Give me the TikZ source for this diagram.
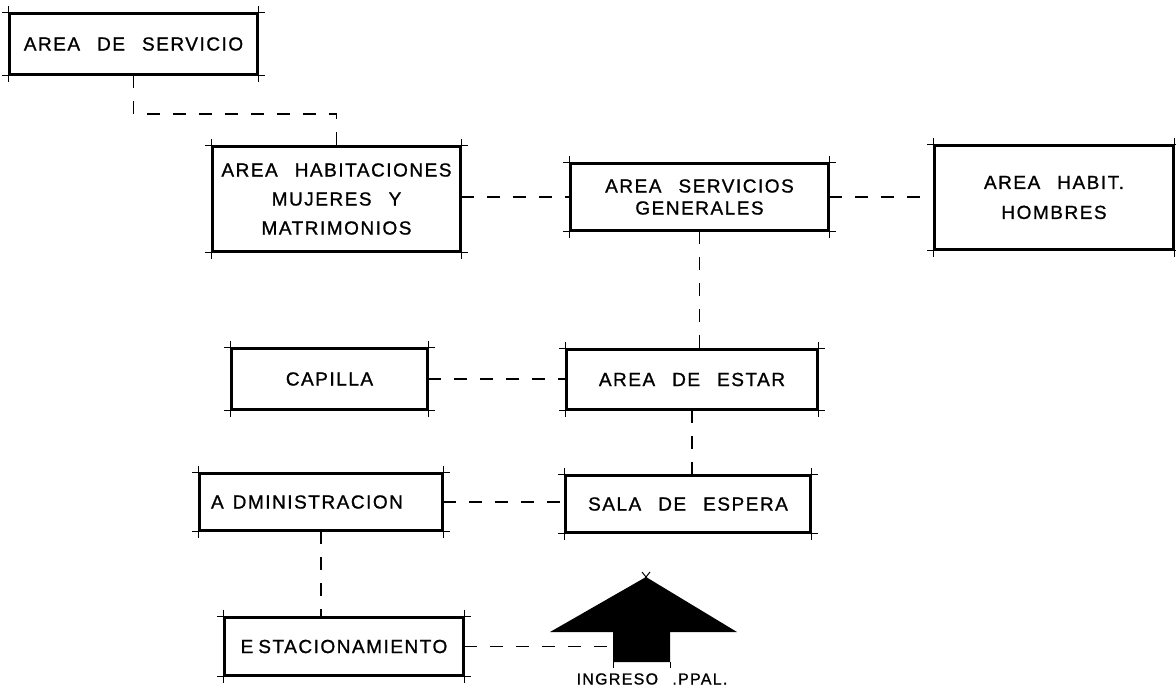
\documentclass[tikz,border=0pt]{standalone}
\usepackage{fontspec}
\setmainfont{Liberation Sans}[LetterSpace=8,WordSpace=2.5,FakeBold=1]
\usetikzlibrary{calc}

\begin{document}
\begin{tikzpicture}[x=1pt,y=-1pt]
    \useasboundingbox (0,0) rectangle (1176,689);

    \begin{scope}[every node/.style={draw,line width=2.4pt,inner sep=0pt,align=center,
        font=\fontsize{19}{22}\selectfont}]
      \node[minimum width=247,minimum height=60] (serv) at (133.5,44) {AREA DE SERVICIO};
      \node[minimum width=247,minimum height=104] (hab) at (336.5,199)
        {AREA HABITACIONES\\[7pt]MUJERES Y\\[7pt]MATRIMONIOS};
      \node[minimum width=257,minimum height=66] (gen) at (699.5,197)
        {AREA SERVICIOS\\GENERALES};
      \node[minimum width=238,minimum height=103] (hom) at (1054,197.5)
        {AREA HABIT.\\[8pt]HOMBRES};
      \node[minimum width=195,minimum height=60] (cap) at (329.5,379) {CAPILLA};
      \node[minimum width=250,minimum height=59] (est) at (692,379.5) {AREA DE ESTAR};
      \node[minimum width=242,minimum height=56] (adm) at (321,502)
        {A\hspace{9pt}DMINISTRACION\hspace*{28pt}};
      \node[minimum width=244,minimum height=56] (esp) at (688,504) {SALA DE ESPERA};
      \node[minimum width=238,minimum height=57] (estac) at (344,646.5)
        {E\hspace{5pt}STACIONAMIENTO};
    \end{scope}

    % corner ticks
    \foreach \n in {serv,hab,gen,hom,cap,est,adm,esp,estac} {
      \draw[line width=1pt] ([xshift=-7pt]\n.north west) -- ([xshift=7pt]\n.north east);
      \draw[line width=1pt] ([xshift=-7pt]\n.south west) -- ([xshift=7pt]\n.south east);
      \draw[line width=1pt] ([yshift=7pt]\n.north west) -- ([yshift=-7pt]\n.south west);
      \draw[line width=1pt] ([yshift=7pt]\n.north east) -- ([yshift=-7pt]\n.south east);
    }

    % ingreso principal
    \fill (613,662) -- (613,632) -- (550,632) -- (646,577) -- (737,632)
      -- (670,632) -- (670,662) -- cycle;
    \draw[line width=1pt] (642,572) -- (650,582) (650,572) -- (642,582);
    \draw[line width=1pt] (613,662) -- (613,668) (670,662) -- (670,668);
    \coordinate (flecha) at (613,648);
    \node[font=\fontsize{16}{19}\selectfont] (ingreso) at (652,679) {INGRESO .PPAL.};

    \begin{scope}[every path/.style={draw,line width=1.6pt,dash pattern=on 13pt off 13pt}]
      \draw (serv.south) -- ++(0,39) -| (hab.north);
      \draw (gen.west -| hab.east) -- (gen.west);
      \draw (gen.east) -- (gen.east -| hom.west);
      \draw (gen.south) -- (gen.south |- est.north);
      \draw (cap.east) -- (cap.east -| est.west);
      \draw (est.south) -- (est.south |- esp.north);
      \draw (adm.east) -- (adm.east -| esp.west);
      \draw (adm.south) -- (adm.south |- estac.north);
      \draw (estac.east) -- (estac.east -| flecha);
    \end{scope}
\end{tikzpicture}
\end{document}
